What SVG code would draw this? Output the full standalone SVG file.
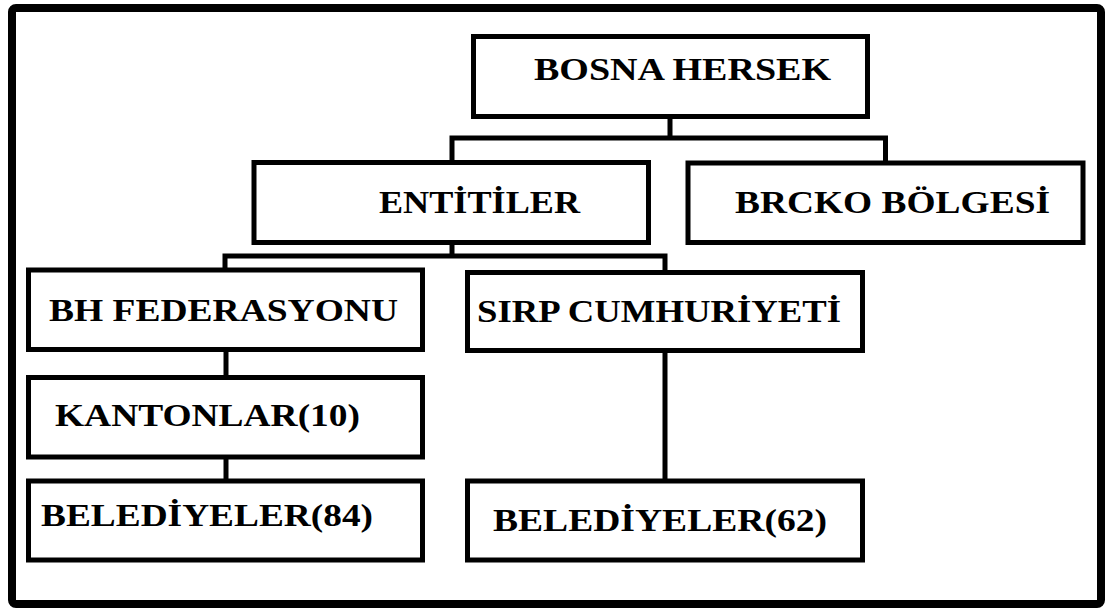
<svg xmlns="http://www.w3.org/2000/svg" width="1105" height="608" viewBox="0 0 1105 608">
<style>
.box{fill:#fff;stroke:#000;stroke-width:5}
.con{fill:none;stroke:#000;stroke-width:5;stroke-linecap:square}
.lbl{font-family:"Liberation Serif","Times New Roman",serif;font-weight:bold;font-size:32px;fill:#000}
</style>
<rect x="0" y="0" width="1105" height="608" fill="#fff"/>
<rect x="12" y="8" width="1089" height="596" rx="4" fill="#fff" stroke="#000" stroke-width="8"/>
<g id="connectors">
<path class="con" d="M670 117V138M452 138H885.5M452 138V162M885.5 138V163"/>
<path class="con" d="M452 243V256M225 256H665M225 256V270M665 256V272"/>
<path class="con" d="M226 350V377"/>
<path class="con" d="M226 457V481"/>
<path class="con" d="M665 351V481"/>
</g>
<g id="bosna-hersek">
<rect class="box" x="473.5" y="36.5" width="394" height="80"/>
<text class="lbl" x="534" y="80" textLength="297" lengthAdjust="spacingAndGlyphs">BOSNA HERSEK</text>
</g>
<g id="entitiler">
<rect class="box" x="254" y="162.5" width="394.5" height="80"/>
<text class="lbl" x="379" y="213" textLength="201" lengthAdjust="spacingAndGlyphs">ENTİTİLER</text>
</g>
<g id="brcko">
<rect class="box" x="688" y="163" width="395" height="79.5"/>
<text class="lbl" x="735" y="213" textLength="315" lengthAdjust="spacingAndGlyphs">BRCKO BÖLGESİ</text>
</g>
<g id="bh-federasyonu">
<rect class="box" x="28.5" y="270" width="394" height="79.5"/>
<text class="lbl" x="49" y="321" textLength="349" lengthAdjust="spacingAndGlyphs">BH FEDERASYONU</text>
</g>
<g id="sirp-cumhuriyeti">
<rect class="box" x="467.5" y="272.5" width="395" height="78"/>
<text class="lbl" x="477" y="322" textLength="364" lengthAdjust="spacingAndGlyphs">SIRP CUMHURİYETİ</text>
</g>
<g id="kantonlar">
<rect class="box" x="28.5" y="377.5" width="394" height="79.5"/>
<text class="lbl" x="55" y="426" textLength="305" lengthAdjust="spacingAndGlyphs">KANTONLAR(10)</text>
</g>
<g id="belediyeler-84">
<rect class="box" x="28.5" y="481" width="394" height="79"/>
<text class="lbl" x="41" y="526" textLength="332" lengthAdjust="spacingAndGlyphs">BELEDİYELER(84)</text>
</g>
<g id="belediyeler-62">
<rect class="box" x="467.5" y="481" width="395" height="79"/>
<text class="lbl" x="493" y="531" textLength="334" lengthAdjust="spacingAndGlyphs">BELEDİYELER(62)</text>
</g>
</svg>
